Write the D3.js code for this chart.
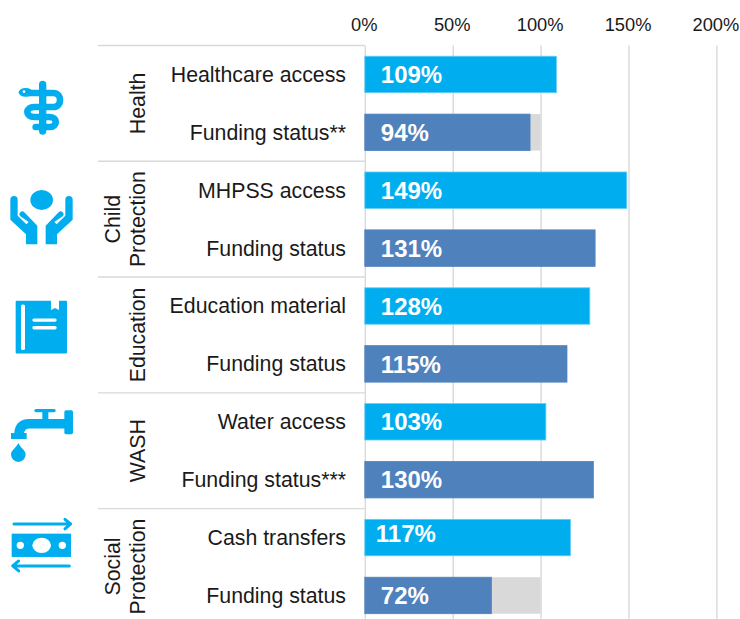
<!DOCTYPE html>
<html>
<head>
<meta charset="utf-8">
<style>
  body { margin: 0; background: #fff; }
  svg { display: block; font-family: "Liberation Sans", Arial, sans-serif; }
  .domain { display: none; }
</style>
<script src="https://cdn.jsdelivr.net/npm/d3@7"></script>
</head>
<body>
<div id="chart"></div>
<script>
var groupNames = [["Health"], ["Child", "Protection"], ["Education"], ["WASH"], ["Social", "Protection"]];
var rowLabels = ["Healthcare access", "Funding status**", "MHPSS access", "Funding status",
    "Education material", "Funding status", "Water access", "Funding status***",
    "Cash transfers", "Funding status"];
var rowValues = [109, 94, 149, 131, 128, 115, 103, 130, 117, 72];
var gapValues = [0, 6, 0, 0, 0, 0, 0, 0, 0, 28];
var tickValues = [0, 50, 100, 150, 200];

var width = 740, height = 619;
var plotTop = 45.5, plotBottom = 624.4, plotLeft = 364.8, plotRight = 716.4, sepLeft = 98;
var cyan = "#00aeef", steel = "#4f81bd", grey = "#d9d9d9";

var svg = d3.select("#chart").append("svg")
    .attr("width", width)
    .attr("height", height);

var xScale = d3.scaleLinear().domain([0, 200]).range([plotLeft, plotRight]);

var yScale = d3.scaleBand()
    .domain(d3.range(rowLabels.length))
    .range([plotTop, plotBottom])
    .paddingInner(0.37)
    .paddingOuter(0.185);

var groupScale = d3.scaleBand()
    .domain(d3.range(groupNames.length))
    .range([plotTop, plotBottom]);

// X axis on top, the tick lines double as the grid
var xAxis = d3.axisTop(xScale)
    .tickValues(tickValues)
    .tickSize(0)
    .tickPadding(0)
    .tickFormat(function(d) { return d + "%"; });

svg.append("g")
    .attr("transform", "translate(-1,31)")
    .call(xAxis)
    .call(function(g) {
        g.selectAll("text").attr("dy", 0).style("font-size", "18.3px").attr("fill", "#1a1a1a");
        g.selectAll("line")
            .attr("x1", 1)
            .attr("x2", 1)
            .attr("y1", plotTop - 31)
            .attr("y2", height - 31 + 10)
            .attr("stroke", grey)
            .attr("stroke-width", 1.4);
    });

// Group separators
svg.append("g").selectAll("line")
    .data(d3.range(groupNames.length))
    .enter().append("line")
    .attr("x1", sepLeft)
    .attr("x2", plotLeft)
    .attr("y1", function(d) { return groupScale(d); })
    .attr("y2", function(d) { return groupScale(d); })
    .attr("stroke", grey)
    .attr("stroke-width", 1.4);

// Row labels
var yAxis = d3.axisLeft(yScale)
    .tickSize(0)
    .tickPadding(plotLeft - 346)
    .tickFormat(function(i) { return rowLabels[i]; });

svg.append("g")
    .attr("transform", "translate(" + plotLeft + ",0)")
    .call(yAxis)
    .call(function(g) {
        g.selectAll("text").style("font-size", "21.3px").attr("fill", "#1a1a1a").attr("dy", "0.35em");
    });

// Group labels, rotated, one or two lines
var groupLabels = svg.append("g").selectAll("g")
    .data(groupNames)
    .enter().append("g")
    .attr("transform", function(d, i) {
        return "translate(145," + (groupScale(i) + groupScale.bandwidth() / 2) + ") rotate(-90)";
    });

groupLabels.selectAll("text")
    .data(function(d) { return d.slice().reverse(); })
    .enter().append("text")
    .attr("y", function(d, i) { return -25 * i; })
    .attr("text-anchor", "middle")
    .style("font-size", "21.3px")
    .attr("fill", "#1a1a1a")
    .text(function(d) { return d; });

// Bars
var bars = svg.append("g").selectAll("g")
    .data(rowValues)
    .enter().append("g");

bars.append("rect")
    .attr("x", function(d, i) { return xScale(d); })
    .attr("y", function(d, i) { return yScale(i); })
    .attr("width", function(d, i) { return xScale(d + gapValues[i]) - xScale(d); })
    .attr("height", yScale.bandwidth())
    .attr("fill", grey);

bars.append("rect")
    .attr("x", xScale(0))
    .attr("y", function(d, i) { return yScale(i); })
    .attr("width", function(d) { return xScale(d) - xScale(0); })
    .attr("height", yScale.bandwidth())
    .attr("fill", function(d, i) { return i % 2 === 0 ? cyan : steel; })
    .attr("stroke", function(d, i) { return i % 2 === 0 ? "#66cef5" : steel; })
    .attr("stroke-width", 0.8);

bars.append("text")
    .attr("x", function(d, i) { return xScale(0) + (i === 8 ? 11 : 16); })
    .attr("y", function(d, i) { return yScale(i) + yScale.bandwidth() / 2 + (i === 8 ? -4 : 0); })
    .attr("dy", "0.36em")
    .attr("fill", "#fff")
    .style("font-size", "24px")
    .style("font-weight", "bold")
    .text(function(d) { return d + "%"; });

// Icons, drawn at 3x in their own box and placed at each group
var icons = svg.append("g").attr("fill", cyan);

function iconGroup(i, dy) {
    var cy = groupScale(i) + groupScale.bandwidth() / 2;
    return icons.append("g").attr("transform", "translate(5," + (cy + dy) + ") scale(0.3333)");
}

// Health: staff and snake
var snake = iconGroup(0, -28.4);
snake.append("path").attr("d", "M113,28V168").attr("stroke", cyan).attr("stroke-width", 22).attr("stroke-linecap", "round").attr("fill", "none");
snake.append("path")
    .attr("d", "M70,54H145C172,54 172,96 145,96H88C60,96 60,126 88,126H135C158,126 158,156 135,156H92")
    .attr("fill", "none").attr("stroke", cyan).attr("stroke-width", 20).attr("stroke-linecap", "round");
snake.append("ellipse").attr("cx", 62).attr("cy", 52).attr("rx", 21).attr("ry", 13);
snake.append("circle").attr("cx", 57).attr("cy", 50).attr("r", 4).attr("fill", "#fff");

// Child protection: hands around a head
var hands = iconGroup(1, -34.2);
hands.append("ellipse").attr("cx", 110).attr("cy", 45).attr("rx", 34).attr("ry", 30);
var handShape = "M16,44A11,11 0 0 1 38,44V92L64,118L71,111L46,94A8,8 0 0 1 58,82L97,122V178H63V148L16,104Z";
hands.append("path").attr("d", handShape);
hands.append("path").attr("d", handShape).attr("transform", "translate(219,0) scale(-1,1)");

// Education: book
var book = iconGroup(2, -39.9);
book.append("rect").attr("x", 32).attr("y", 17).attr("width", 154).attr("height", 158).attr("rx", 3);
book.append("path").attr("d", "M138,14V45L150,39L162,45V14Z").attr("fill", "#fff");
book.append("rect").attr("x", 48).attr("y", 28).attr("width", 12).attr("height", 137).attr("rx", 5).attr("fill", "#fff");
book.append("rect").attr("x", 82).attr("y", 70).attr("width", 73).attr("height", 10).attr("rx", 5).attr("fill", "#fff");
book.append("rect").attr("x", 82).attr("y", 93).attr("width", 73).attr("height", 10).attr("rx", 5).attr("fill", "#fff");

// WASH: tap and drop
var tap = iconGroup(3, -50.5);
tap.append("rect").attr("x", 88).attr("y", 26).attr("width", 64).attr("height", 10).attr("rx", 5);
tap.append("rect").attr("x", 112).attr("y", 30).attr("width", 18).attr("height", 30);
tap.append("rect").attr("x", 178).attr("y", 30).attr("width", 26).attr("height", 72).attr("rx", 5);
tap.append("path").attr("d", "M180,56H72Q30,58 28,98H18V116H65V98H57Q60,85 74,85H180Z");
tap.append("path").attr("d", "M40,128C32,145 18,150 18,163A22,22 0 0 0 62,163C62,150 48,145 40,128Z");

// Social protection: banknote and arrows
var cash = iconGroup(4, -56.2);
cash.append("rect").attr("x", 20).attr("y", 70).attr("width", 178).attr("height", 70);
cash.append("ellipse").attr("cx", 110).attr("cy", 105).attr("rx", 28).attr("ry", 23).attr("fill", "#fff");
cash.append("circle").attr("cx", 46).attr("cy", 105).attr("r", 11).attr("fill", "#fff");
cash.append("circle").attr("cx", 172).attr("cy", 105).attr("r", 11).attr("fill", "#fff");
cash.append("path")
    .attr("d", "M27,41H195M180,27L197,41L180,56M193,167H25M41,152L23,167L41,182")
    .attr("fill", "none").attr("stroke", cyan).attr("stroke-width", 9).attr("stroke-linecap", "round").attr("stroke-linejoin", "round");
</script>
</body>
</html>
